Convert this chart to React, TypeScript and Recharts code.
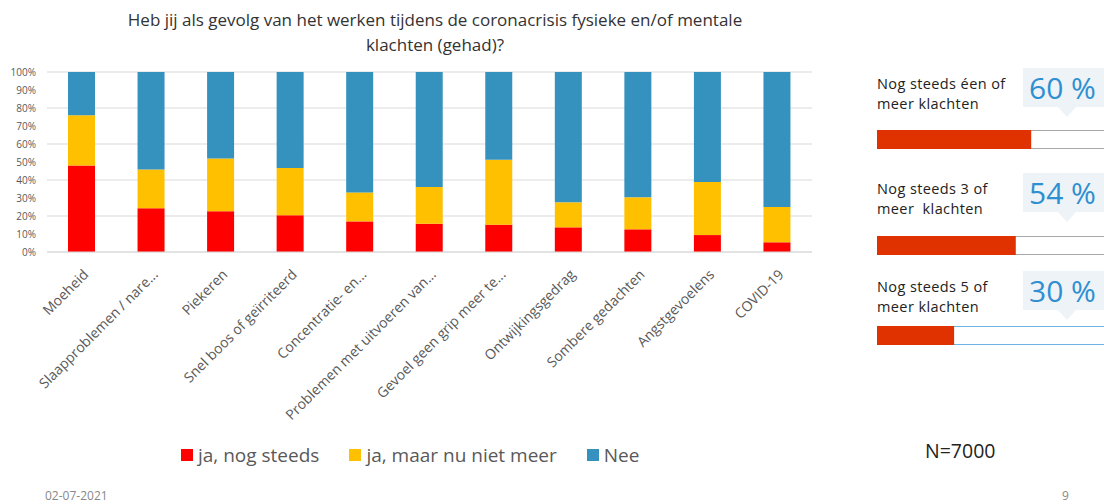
import { BarChart, Bar, XAxis, YAxis, CartesianGrid } from 'recharts'

const categories = [
  'Moeheid',
  'Slaapproblemen / nare...',
  'Piekeren',
  'Snel boos of geïrriteerd',
  'Concentratie- en...',
  'Problemen met uitvoeren van...',
  'Gevoel geen grip meer te...',
  'Ontwijkingsgedrag',
  'Sombere gedachten',
  'Angstgevoelens',
  'COVID-19',
]
const jaNogSteeds = [48, 24.3, 22.6, 20.4, 17, 15.7, 15.2, 13.7, 12.6, 9.4, 5.4]
const jaNietMeer = [28, 21.6, 29.4, 26.3, 16.1, 20.4, 36.1, 13.9, 17.8, 29.5, 19.6]
const nee = [24, 54.1, 48, 53.3, 66.9, 63.9, 48.7, 72.4, 69.6, 61.1, 75]
const yTicks = [0, 10, 20, 30, 40, 50, 60, 70, 80, 90, 100]

const seriesNames = ['ja, nog steeds', 'ja, maar nu niet meer', 'Nee']
const seriesColors = ['#ff0000', '#ffc000', '#3592be']

const summaryLabels = [
  ['Nog steeds éen of', 'meer klachten'],
  ['Nog steeds 3 of', 'meer  klachten'],
  ['Nog steeds 5 of', 'meer klachten'],
]
const summaryValues = [60, 54, 30]

const data = categories.map((name, i) => ({
  name,
  ja: jaNogSteeds[i],
  niet: jaNietMeer[i],
  nee: nee[i],
}))

const FONT = '"Open Sans", sans-serif'

function AngledTick(props: any) {
  const { x, y, payload } = props
  return (
    <g transform={`translate(${x + 4},${y + 12})`}>
      <text
        transform="rotate(-45)"
        textAnchor="end"
        dy=".35em"
        fontSize={14}
        fill="#595959"
        fontFamily={FONT}
      >
        {payload.value}
      </text>
    </g>
  )
}

// layout of the three summary blocks on the right
const blockTops = [68, 173, 271]
const barTops = [130, 236, 326]
const barOutline = ['#8c8c8c', '#8c8c8c', '#3a9ad9']

export default function App() {
  return (
    <div style={{
      position: 'absolute', left: 0, top: 0, width: 1104, height: 504,
      overflow: 'hidden', background: '#fff', fontFamily: FONT,
    }}>
      <div style={{
        position: 'absolute', left: 0, top: 7, width: 870, textAlign: 'center',
        fontSize: 17, lineHeight: '25px', color: '#333',
      }}>
        Heb jij als gevolg van het werken tijdens de coronacrisis fysieke en/of mentale<br />
        klachten (gehad)?
      </div>

      <div style={{ position: 'absolute', left: 0, top: 0 }}>
        <BarChart
          width={830}
          height={440}
          data={data}
          margin={{ top: 72, right: 18, left: 0, bottom: 0 }}
          barSize={27}
        >
          <CartesianGrid vertical={false} stroke="#d9d9d9" />
          <XAxis
            dataKey="name"
            interval={0}
            height={188}
            tickLine={false}
            axisLine={{ stroke: '#d9d9d9' }}
            tick={<AngledTick />}
          />
          <YAxis
            width={47}
            domain={[0, 100]}
            ticks={yTicks}
            tickFormatter={(v: number) => `${v}%`}
            axisLine={false}
            tickLine={false}
            tickMargin={5}
            tick={{ fontSize: 10, fill: '#595959', fontFamily: FONT }}
          />
          <Bar dataKey="ja" stackId="a" fill={seriesColors[0]} isAnimationActive={false} />
          <Bar dataKey="niet" stackId="a" fill={seriesColors[1]} isAnimationActive={false} />
          <Bar dataKey="nee" stackId="a" fill={seriesColors[2]} isAnimationActive={false} />
        </BarChart>
      </div>

      {/* legenda */}
      <div style={{
        position: 'absolute', left: 181, top: 442, display: 'flex', alignItems: 'center',
        fontSize: 19, color: '#595959', whiteSpace: 'nowrap',
      }}>
        {seriesNames.map((s, i) => (
          <div key={s} style={{ display: 'flex', alignItems: 'center', marginRight: 30 }}>
            <span style={{ width: 12, height: 12, background: seriesColors[i], marginRight: 5, display: 'inline-block' }} />
            {s}
          </div>
        ))}
      </div>

      {/* samenvatting rechts */}
      {summaryValues.map((v, i) => (
        <div key={i}>
          <div style={{
            position: 'absolute', left: 1023, top: blockTops[i], width: 100, height: 39,
            background: '#eef3f8',
          }} />
          <div style={{
            position: 'absolute', left: 1058, top: blockTops[i] + 39, width: 0, height: 0,
            borderLeft: '9px solid transparent', borderRight: '9px solid transparent',
            borderTop: `10px solid #eef3f8`,
          }} />
          {summaryLabels[i].map((line, j) => (
            <div key={j} style={{
              position: 'absolute', left: 877, top: blockTops[i] + 6 + j * 20, fontSize: 14.5,
              letterSpacing: 0.4, lineHeight: '20px', height: 20, color: '#222', whiteSpace: 'pre',
            }}>
              {line}
            </div>
          ))}
          <div style={{
            position: 'absolute', left: 1029, top: blockTops[i] - 2, fontSize: 30,
            lineHeight: '44px', color: '#2e8fd1', whiteSpace: 'nowrap',
          }}>
            {v} %
          </div>
          <div style={{ position: 'absolute', left: 877, top: barTops[i] }}>
            <BarChart
              width={257}
              height={19}
              layout="vertical"
              data={[{ name: 'v', value: v }]}
              margin={{ top: 0, right: 0, left: 0, bottom: 0 }}
              barCategoryGap={0}
            >
              <XAxis type="number" domain={[0, 100]} hide />
              <YAxis type="category" dataKey="name" hide />
              <Bar
                dataKey="value"
                fill="#e03100"
                isAnimationActive={false}
                background={{ fill: '#fff', stroke: barOutline[i], strokeWidth: 1.5 }}
              />
            </BarChart>
          </div>
        </div>
      ))}

      <div style={{ position: 'absolute', left: 925, top: 437, fontSize: 19.5, lineHeight: '27px', color: '#222' }}>N=7000</div>
      <div style={{ position: 'absolute', left: 45, top: 489, fontSize: 12, lineHeight: '14px', color: '#888' }}>02-07-2021</div>
      <div style={{ position: 'absolute', left: 1062, top: 489, fontSize: 12, lineHeight: '14px', color: '#888' }}>9</div>
    </div>
  )
}
